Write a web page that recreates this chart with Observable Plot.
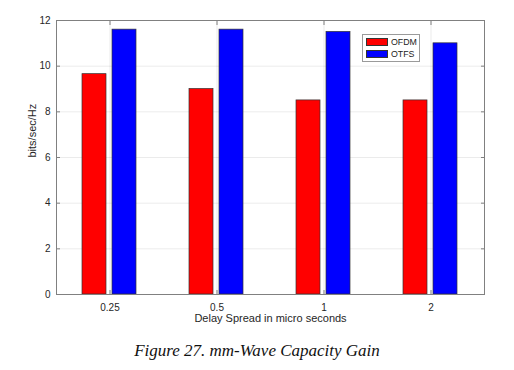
<!DOCTYPE html>
<html>
<head>
<meta charset="utf-8">
<script src="https://cdn.jsdelivr.net/npm/d3@7"></script>
<script src="https://cdn.jsdelivr.net/npm/@observablehq/plot@0.6"></script>
<style>
  html, body { margin: 0; padding: 0; background: #fff; }
  #wrap { position: relative; width: 514px; height: 370px; }
  #legend {
    position: absolute; left: 362px; top: 34px; width: 56px; height: 26px;
    border: 1px solid #9a9a9a; background: #fff;
    font-family: "Liberation Sans", Arial, sans-serif; font-size: 8.8px; color: #222;
  }
  .row { position: absolute; left: 3px; display: flex; align-items: center; height: 10px; }
  .sw { width: 22px; height: 8.5px; border: 0.8px solid #333; margin-right: 3px; box-sizing: border-box; }
  #caption {
    position: absolute; left: 0; width: 514px; top: 341px; text-align: center;
    font-family: "Liberation Serif", "Times New Roman", serif; font-style: italic; font-size: 17px; color: #111;
  }
</style>
</head>
<body>
<div id="wrap">
  <div id="chart"></div>
  <div id="legend"></div>
  <div id="caption">Figure 27. mm-Wave Capacity Gain</div>
</div>
<script>
const categories = ["0.25", "0.5", "1", "2"];
const series = ["OFDM", "OTFS"];
const ofdmValues = [9.65, 9.0, 8.5, 8.5];
const otfsValues = [11.6, 11.6, 11.5, 11.0];
const yTicks = [0, 2, 4, 6, 8, 10, 12];
const colors = ["#ff0000", "#0000ff"];
const xLabel = "Delay Spread in micro seconds";
const yLabel = "bits/sec/Hz";

const rows = [];
categories.forEach((c, i) => {
  rows.push({delay: c, scheme: series[0], value: ofdmValues[i]});
  rows.push({delay: c, scheme: series[1], value: otfsValues[i]});
});

const font = "Liberation Sans, Arial, sans-serif";
const chart = Plot.plot({
  width: 514,
  height: 330,
  marginTop: 20,
  marginBottom: 36,
  marginLeft: 55,
  marginRight: 29,
  style: {fontFamily: font, fontSize: "10px", color: "#262626", background: "#fff"},
  fx: {domain: categories, padding: 0, label: null},
  x: {domain: series, paddingInner: 0.194, paddingOuter: 0.831, axis: null},
  y: {domain: [0, 12], label: null},
  color: {domain: series, range: colors},
  marks: [
    Plot.gridY(yTicks, {stroke: "#000", strokeOpacity: 0.08}),
    Plot.gridFx({stroke: "#000", strokeOpacity: 0.08}),
    Plot.barY(rows, {fx: "delay", x: "scheme", y: "value", fill: "scheme", stroke: "#333", strokeWidth: 0.7}),
    Plot.axisY(yTicks, {anchor: "left", tickSize: 0, tickPadding: 6, label: null, fontSize: 10}),
    Plot.axisY(yTicks, {anchor: "left", tickSize: -4, tickFormat: () => "", label: null, stroke: "#808080"}),
    Plot.axisY(yTicks, {anchor: "right", tickSize: -4, tickFormat: () => "", label: null, stroke: "#808080"}),
    Plot.axisFx({anchor: "bottom", tickSize: 0, tickPadding: 9, label: null, fontSize: 10}),
    Plot.axisFx({anchor: "top", tickSize: -4, tickFormat: () => "", label: null, stroke: "#808080"}),
    Plot.axisFx({anchor: "bottom", tickSize: -4, tickFormat: () => "", label: null, stroke: "#808080"}),
    Plot.frame({facet: "super", stroke: "#808080"}),
    Plot.text([xLabel], {facet: "super", frameAnchor: "bottom", dy: 27, fontSize: 11, fill: "#262626"}),
    Plot.text([yLabel], {facet: "super", frameAnchor: "left", dx: -24, rotate: -90, fontSize: 11, fill: "#262626"})
  ]
});
document.getElementById("chart").appendChild(chart);

const legend = document.getElementById("legend");
series.forEach((s, i) => {
  const r = document.createElement("div");
  r.className = "row";
  r.style.top = (2 + i * 12) + "px";
  const sw = document.createElement("div");
  sw.className = "sw";
  sw.style.background = colors[i];
  const t = document.createElement("span");
  t.textContent = s;
  r.appendChild(sw); r.appendChild(t);
  legend.appendChild(r);
});
</script>
</body>
</html>
